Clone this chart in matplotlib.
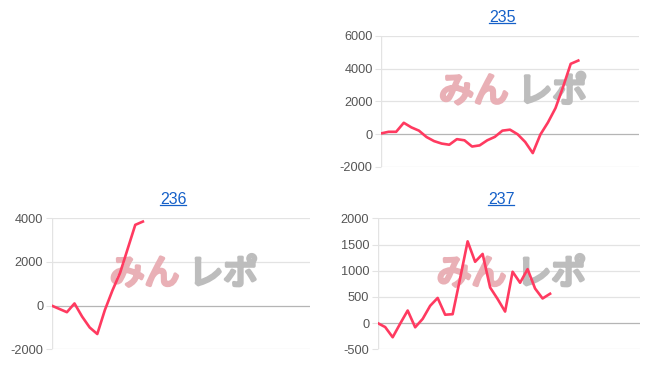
import numpy as np
import matplotlib
matplotlib.use("Agg")
import matplotlib.pyplot as plt
from matplotlib.lines import Line2D
import matplotlib.patheffects as pe

plt.rcParams['font.family'] = ['Liberation Sans', 'DejaVu Sans']

# data
v235 = [50, 150, 150, 700, 420, 220, -170, -420, -570, -640, -300, -370, -750,
        -680, -370, -160, 220, 280, 0, -470, -1150, -20, 720, 1600, 2900, 4300, 4500]
v236 = [0, -150, -300, 100, -500, -1000, -1300, -200, 700, 1500, 2600, 3700, 3850]
v237 = [0, -76, -270, -10, 240, -80, 80, 330, 480, 160, 170, 855, 1560, 1170, 1320,
        680, 460, 220, 980, 770, 1030, 660, 470, 560]

titles = ["235", "236", "237"]
series = [v235, v236, v237]
yticks = [[-2000, 0, 2000, 4000, 6000],
          [-2000, 0, 2000, 4000],
          [-500, 0, 500, 1000, 1500, 2000]]
xmax = [34, 34, 35]

# axes boxes in pixels (left, top, right, bottom)
W, H = 650, 367
boxes = [(381, 36, 639, 167), (51.7, 218.3, 310, 349.3), (377.7, 218.3, 640, 349.3)]

fig = plt.figure(figsize=(6.5, 3.67), dpi=100)
line_col = '#ff3a60'
grid_col = '#e3e3e3'

for t, vals, yt, xm, (l, tp, r, b) in zip(titles, series, yticks, xmax, boxes):
    ax = fig.add_axes([l / W, 1 - b / H, (r - l) / W, (b - tp) / H])
    ax.set_xlim(0, xm)
    ax.set_ylim(yt[0], yt[-1])
    ax.set_yticks(yt)
    ax.set_yticklabels([str(v) for v in yt])
    ax.set_xticks([])
    for s in ax.spines.values():
        s.set_visible(False)
    ax.axvline(0, color=grid_col, lw=1, zorder=0)
    for v in yt:
        ax.axhline(v, color='#b5b5b5' if v == 0 else grid_col, lw=0.9, zorder=0)
    ax.tick_params(axis='y', length=4, color=grid_col, labelsize=9.2,
                   labelcolor='#555555', pad=2)

    # watermark
    ax.text(0.225, 0.57, 'みん', transform=ax.transAxes, fontsize=25,
            family=['Noto Sans CJK JP'],
            color='#e9b0b6', ha='left', va='center', zorder=1,
            path_effects=[pe.withStroke(linewidth=2.5, foreground='#e9b0b6')])
    ax.text(0.53, 0.57, 'レポ', transform=ax.transAxes, fontsize=25,
            family=['Noto Sans CJK JP'],
            color='#bdbdbd', ha='left', va='center', zorder=1,
            path_effects=[pe.withStroke(linewidth=2.5, foreground='#bdbdbd')])

    ax.plot(np.arange(len(vals)), vals, color=line_col, lw=1.9, zorder=3,
            solid_joinstyle='round')

    cx = (l + r) / 2 / W - 0.012
    ty = 1 - (tp - 19) / H
    fig.text(cx, ty, t, ha='center', va='center', fontsize=11.5,
             color='#1560c8')

fig.canvas.draw()
rend = fig.canvas.get_renderer()
for txt in fig.texts:
    bb = txt.get_window_extent(rend).transformed(fig.transFigure.inverted())
    fig.add_artist(Line2D([bb.x0, bb.x1], [bb.y0 + 0.004, bb.y0 + 0.004],
                          color='#1560c8', lw=0.9, transform=fig.transFigure))

fig.savefig('out.png', dpi=100)
